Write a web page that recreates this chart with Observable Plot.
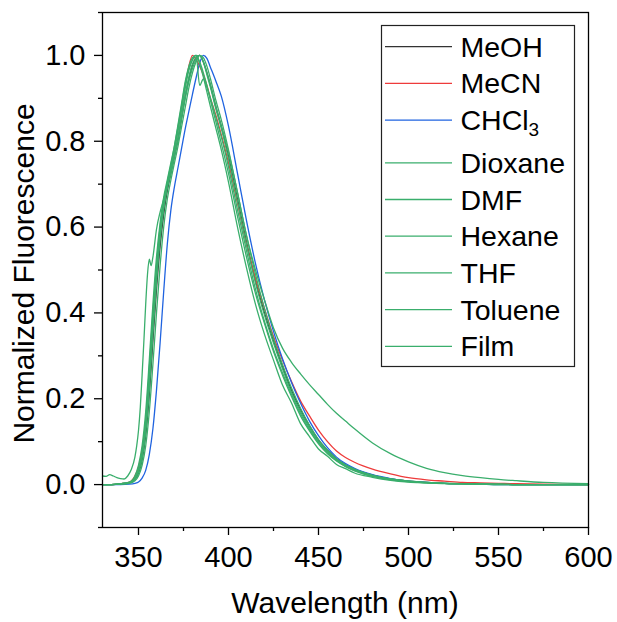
<!DOCTYPE html>
<html><head><meta charset="utf-8">
<script src="https://cdn.jsdelivr.net/npm/d3@7"></script>
<script src="https://cdn.jsdelivr.net/npm/@observablehq/plot@0.6"></script>
<style>html,body{margin:0;padding:0;background:#fff;}</style>
</head><body><div id="chart"></div>
<script>
// Shared wavelength grid (nm) for solution spectra
const wl = [330,335,340,345,348,350,352,354,356,358,360,362,364,366,368,370,372,374,376,378,380,382,384,386,388,390,393,396,400,405,410,415,420,425,430,435,440,445,450,455,460,465,470,480,490,500,510,520,530,540,550,560,575,600];

const meoh    = [0,0,0.001,0.004, 0.012,0.027, 0.058,0.115,0.21,0.335,0.455,0.555,0.63,0.685,0.725,0.765,0.805,0.855,0.905,0.945,0.978,0.995,1.0,0.985,0.96,0.93, 0.88,0.835,0.765, 0.665,0.565,0.475,0.4,0.335,0.275,0.22,0.175,0.137,0.104,0.08,0.06,0.046,0.036, 0.022,0.013,0.008,0.005,0.003,0.002,0.001,0.001,0, 0,0];
const mecn    = [0,0,0.002,0.006, 0.02,0.04, 0.08,0.15,0.26,0.39,0.5,0.59,0.65,0.7,0.74,0.78,0.83,0.88,0.93,0.975,1.0,0.99,0.975,0.955,0.93,0.9, 0.86,0.815,0.75, 0.655,0.56,0.48,0.41,0.345,0.29,0.24,0.195,0.16,0.127,0.1,0.078,0.063,0.052, 0.036,0.025,0.016,0.011,0.008,0.005,0.004,0.003,0.002, 0.001,0];
const chcl3   = [0,0,0,0.001, 0.003,0.006, 0.015,0.033,0.07,0.13,0.22,0.33,0.45,0.56,0.64,0.695,0.74,0.785,0.83,0.87,0.91,0.948,0.982,1.0,0.993,0.972, 0.94,0.905,0.835, 0.725,0.615,0.515,0.43,0.357,0.293,0.238,0.19,0.148,0.114,0.086,0.064,0.049,0.038, 0.023,0.014,0.008,0.005,0.003,0.002,0.001,0,0, 0,0];
const dioxane = [0,0,0.002,0.006, 0.02,0.045, 0.09,0.17,0.29,0.42,0.53,0.61,0.67,0.71,0.75,0.79,0.84,0.89,0.94,0.975,0.995,1.0,0.985,0.96,0.93,0.895, 0.845,0.795,0.725, 0.625,0.53,0.445,0.375,0.31,0.255,0.205,0.16,0.125,0.095,0.072,0.055,0.042,0.032, 0.019,0.011,0.007,0.004,0.003,0.002,0.001,0.001,0, 0,0];
const dmf     = [0,0,0.001,0.004, 0.012,0.028, 0.06,0.12,0.22,0.35,0.47,0.57,0.64,0.69,0.73,0.77,0.81,0.86,0.91,0.95,0.98,0.995,1.0,0.985,0.955,0.925, 0.875,0.83,0.76, 0.66,0.56,0.47,0.395,0.33,0.27,0.215,0.17,0.132,0.1,0.077,0.058,0.045,0.035, 0.021,0.013,0.008,0.005,0.003,0.002,0.001,0.001,0, 0,0];
const hexane  = [0,0,0.002,0.005, 0.016,0.035, 0.075,0.15,0.27,0.4,0.51,0.6,0.66,0.705,0.745,0.79,0.835,0.885,0.935,0.97,0.99,1.0,0.98,0.95,0.915,0.88, 0.83,0.78,0.705, 0.6,0.505,0.42,0.35,0.29,0.232,0.19,0.142,0.112,0.083,0.066,0.047,0.037,0.027, 0.017,0.01,0.006,0.004,0.002,0.001,0.001,0,0, 0,0];
const thf     = [0,0,0.001,0.003, 0.009,0.02, 0.045,0.09,0.17,0.28,0.4,0.51,0.6,0.665,0.71,0.75,0.79,0.835,0.88,0.925,0.96,0.985,1.0,0.995,0.975,0.945, 0.895,0.85,0.78, 0.68,0.58,0.49,0.41,0.34,0.28,0.225,0.178,0.138,0.105,0.08,0.06,0.046,0.036, 0.022,0.013,0.008,0.005,0.003,0.002,0.001,0.001,0, 0,0];
const toluene = [0,0,0.002,0.005, 0.014,0.032, 0.068,0.135,0.245,0.375,0.49,0.585,0.65,0.7,0.74,0.78,0.825,0.875,0.925,0.965,0.99,1.0,0.93,0.945,0.925,0.9, 0.855,0.81,0.74, 0.64,0.545,0.455,0.38,0.315,0.26,0.21,0.165,0.128,0.098,0.074,0.056,0.043,0.033, 0.02,0.012,0.007,0.004,0.003,0.002,0.001,0,0, 0,0];

// Film spectrum on its own grid
const filmWl = [330,332,334,336,338,340,342,344,346,348,349,350,351,352,353,354,355,356,357,358,360,362,364,366,368,370,372,374,376,378,380,382,384,386,388,390,393,396,400,405,410,415,420,425,430,435,440,445,450,455,460,465,470,480,490,500,510,520,530,540,550,560,575,600];
const film   = [0.02,0.019,0.023,0.02,0.016,0.014,0.013,0.02,0.035,0.064,0.09,0.126,0.18,0.255,0.335,0.42,0.49,0.525,0.51,0.53,0.595,0.635,0.665,0.695,0.725,0.765,0.805,0.855,0.9,0.94,0.97,0.99,1.0,0.985,0.96,0.93,0.88,0.835,0.775,0.68,0.58,0.5,0.43,0.365,0.318,0.285,0.258,0.233,0.21,0.187,0.166,0.148,0.13,0.097,0.072,0.053,0.038,0.028,0.021,0.016,0.012,0.009,0.005,0.002];

const seriesNames  = ["MeOH","MeCN","CHCl3","Dioxane","DMF","Hexane","THF","Toluene","Film"];
const seriesColors = ["#333333","#ee3b3b","#1f63e0","#3aae6c","#3aae6c","#3aae6c","#3aae6c","#3aae6c","#3aae6c"];
const seriesValues = [meoh, mecn, chcl3, dioxane, dmf, hexane, thf, toluene, film];
const seriesX      = [wl, wl, wl, wl, wl, wl, wl, wl, filmWl];

const xMajor = [350,400,450,500,550,600];
const xMinor = [375,425,475,525,575];
const yMajor = [0,0.2,0.4,0.6,0.8,1.0];
const yMinor = [-0.1,0.1,0.3,0.5,0.7,0.9,1.1];

// Build long table
const rows = [];
seriesNames.forEach((name, i) => {
  seriesX[i].forEach((x, j) => rows.push({name, x, y: seriesValues[i][j]}));
});

const W = 617, H = 622;
const mL = 102, mR = 29, mT = 12, mB = 95;
const FONT = "'Liberation Sans', Arial, sans-serif";

const plot = Plot.plot({
  width: W, height: H,
  marginLeft: mL, marginRight: mR, marginTop: mT, marginBottom: mB,
  style: {fontFamily: FONT, color: "black", background: "white", overflow: "visible"},
  x: {domain: [330, 600]},
  y: {domain: [-0.1, 1.1]},
  color: {domain: seriesNames, range: seriesColors},
  marks: [
    Plot.line(rows, {x: "x", y: "y", z: "name", stroke: "name", strokeWidth: 1.3, curve: "monotone-x"}),
    Plot.frame({stroke: "black", strokeWidth: 1.3}),
    Plot.axisX({ticks: xMajor, tickSize: 8, tickPadding: 11, fontSize: 29, strokeWidth: 1.3, label: null, tickFormat: d => String(d)}),
    Plot.axisX({ticks: xMinor, tickSize: 4, strokeWidth: 1.3, label: null, tickFormat: () => ""}),
    Plot.axisY({ticks: yMajor, tickSize: 8, tickPadding: 9, fontSize: 29, strokeWidth: 1.3, label: null, tickFormat: d3.format(".1f")}),
    Plot.axisY({ticks: yMinor, tickSize: 4, strokeWidth: 1.3, label: null, tickFormat: () => ""})
  ]
});

const svg = d3.select(plot);
// Axis titles
svg.append("text")
  .attr("x", (mL + W - mR) / 2).attr("y", 613)
  .attr("text-anchor", "middle").attr("font-size", 30).attr("font-family", FONT).attr("fill", "black")
  .text("Wavelength (nm)");
svg.append("text")
  .attr("transform", `translate(33.5,${(mT + H - mB) / 2 + 4}) rotate(-90)`)
  .attr("text-anchor", "middle").attr("font-size", 30).attr("font-family", FONT).attr("fill", "black")
  .text("Normalized Fluorescence");

// Legend
const lg = svg.append("g").attr("text-anchor", "start");
lg.append("rect").attr("x", 381.5).attr("y", 25.5).attr("width", 193).attr("height", 341)
  .attr("fill", "white").attr("stroke", "#222").attr("stroke-width", 1.2);
let yy = 46.7;
seriesNames.forEach((name, i) => {
  lg.append("line").attr("x1", 385).attr("x2", 452).attr("y1", yy).attr("y2", yy)
    .attr("stroke", seriesColors[i]).attr("stroke-width", 1.3);
  const t = lg.append("text").attr("x", 460.5).attr("y", yy + 10)
    .attr("text-anchor", "start")
    .attr("font-size", 28.5).attr("font-family", FONT).attr("fill", "black");
  if (name === "CHCl3") {
    t.append("tspan").text("CHCl");
    t.append("tspan").attr("font-size", 19).attr("dy", 6).text("3");
  } else {
    t.text(name);
  }
  yy += 36.7 + (name === "CHCl3" ? 6 : 0);
});

document.getElementById("chart").appendChild(plot);
</script>
</body></html>
